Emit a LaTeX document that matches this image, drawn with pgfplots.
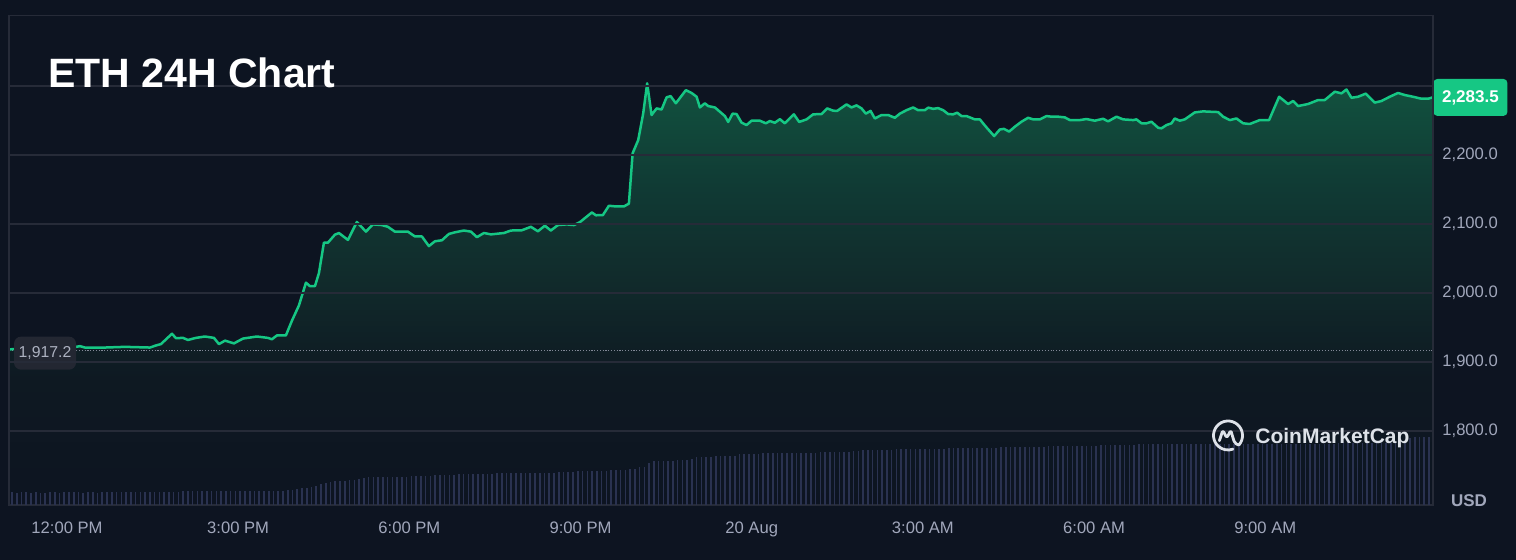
\documentclass[border=0pt]{standalone}
\usepackage{pgfplots}
\pgfplotsset{compat=1.18}
\usepackage{pgfplotstable}
\usepackage{fontspec}
\setmainfont{Liberation Sans}
\definecolor{bg}{RGB}{13,20,33}
\definecolor{gridc}{RGB}{38,43,56}
\definecolor{lineg}{RGB}{22,199,132}
\definecolor{fc0}{RGB}{13,20,33}
\definecolor{fc1}{RGB}{14,25,34}
\definecolor{fc2}{RGB}{17,44,44}
\definecolor{fc3}{RGB}{16,58,52}
\definecolor{fc4}{RGB}{18,82,63}
\definecolor{volc}{RGB}{42,50,80}
\definecolor{tickc}{RGB}{161,167,187}
\definecolor{dotc}{RGB}{130,136,150}
\definecolor{badgec}{RGB}{35,39,50}
\definecolor{badget}{RGB}{172,177,192}
\definecolor{logoc}{RGB}{222,226,233}
\pgfdeclareverticalshading{pfill}{100bp}{color(0bp)=(fc0); color(25bp)=(fc0); color(40bp)=(fc1); color(52.5bp)=(fc2); color(62.5bp)=(fc3); color(75bp)=(fc4); color(100bp)=(fc4)}

\pgfplotstableread{
t v
-1.016 1918.4
0.158 1922
0.228 1923
0.315 1921
0.666 1921
1.016 1922
1.454 1921
1.559 1924
1.647 1926
1.840 1941
1.910 1934.6
2.033 1935
2.120 1932
2.260 1935
2.418 1937
2.576 1935
2.663 1926
2.769 1931
2.926 1927
3.084 1934
3.329 1937
3.522 1935
3.592 1933
3.680 1938.6
3.837 1938.6
3.943 1960
4.065 1982
4.188 2015
4.258 2010
4.346 2010
4.416 2029
4.503 2073
4.573 2073
4.696 2084.6
4.766 2087
4.924 2077
5.081 2103
5.239 2089
5.362 2099.5
5.519 2098.5
5.624 2096
5.747 2089
5.975 2089
6.098 2082
6.220 2082
6.343 2068
6.448 2075
6.571 2076.5
6.694 2085.7
6.799 2088
6.956 2090.6
7.079 2089
7.184 2081
7.307 2087
7.430 2085
7.657 2087
7.780 2090.6
7.973 2091
8.130 2096
8.253 2089.5
8.375 2097.6
8.480 2090.6
8.603 2098.5
8.761 2099.5
8.883 2098.5
8.989 2102.7
9.199 2116.8
9.269 2112.7
9.392 2113
9.497 2126.5
9.620 2125.5
9.760 2125.5
9.848 2129.6
9.913 2202.5
10.011 2221.7
10.098 2260
10.168 2304
10.245 2258
10.333 2267.6
10.421 2266
10.508 2283.6
10.578 2285.5
10.671 2275
10.846 2294
10.946 2290
11.034 2284.5
11.092 2269
11.179 2275
11.237 2271
11.355 2269
11.530 2256.5
11.588 2248
11.665 2260
11.735 2259.4
11.822 2247
11.910 2243.5
11.998 2249.8
12.143 2249.8
12.248 2246
12.318 2249.3
12.406 2246.8
12.494 2252
12.581 2246
12.739 2259
12.832 2248
12.961 2251.7
13.077 2259
13.224 2259.4
13.322 2267.6
13.427 2264.3
13.497 2264
13.662 2273.4
13.749 2269
13.837 2272
13.925 2267.6
14.000 2260
14.083 2264
14.158 2253
14.275 2258
14.391 2258
14.508 2254
14.596 2260
14.713 2265
14.829 2269
14.917 2265
15.034 2265
15.092 2268.7
15.180 2267
15.267 2268
15.355 2265
15.443 2259.4
15.530 2259
15.600 2261.4
15.677 2256.5
15.765 2256.5
15.910 2251.7
15.998 2251.7
16.115 2240
16.249 2227.5
16.348 2237
16.419 2238
16.511 2234
16.611 2241
16.728 2248.3
16.844 2254
16.932 2251.7
17.049 2251.7
17.167 2256.5
17.254 2255.6
17.370 2255.6
17.487 2254.6
17.575 2250.7
17.750 2250.7
17.867 2252.2
18.013 2249.8
18.158 2252.6
18.246 2248.8
18.393 2255.6
18.509 2251.7
18.684 2250.7
18.743 2251.7
18.831 2246
18.919 2246
19.006 2248.3
19.122 2239.6
19.181 2238.7
19.269 2243.5
19.357 2246
19.414 2253
19.502 2249.8
19.590 2251.7
19.765 2261.8
19.911 2263.3
20.028 2262.8
20.174 2262.3
20.261 2255.6
20.379 2250.7
20.496 2253
20.612 2246
20.729 2245
20.904 2250.7
21.067 2250.7
21.243 2284.5
21.400 2274
21.488 2278.3
21.575 2271
21.751 2274
21.926 2279.7
22.043 2279.7
22.218 2291.8
22.336 2289.4
22.423 2295
22.511 2283
22.627 2284.5
22.761 2289
22.919 2276
23.036 2278.3
23.182 2284.5
23.327 2290
23.444 2287
23.590 2284.5
23.737 2281.6
23.853 2281.6
23.930 2283.5
}\pricedata

\pgfplotstableread{
v
12.5
12
12.5
12.5
12
12.5
12
12
12.5
12.5
12
12.5
13
12.5
12.5
11.5
12.5
13
12
12.5
12.5
12.5
12.5
12.5
12.5
12.5
12.5
12.5
12.5
12.5
13
13
13
13
13
13
13.5
13.5
13.5
13.5
13.5
13.5
13.5
13.5
13.5
14
14
14
14
14
14
14
14
14
14
14
14
14
14.5
15
15.7
16.7
17
18.3
19.3
21
21.7
23.3
23.5
24
24.3
24.7
25
25.7
26.7
27.5
27.5
27.7
27.7
27.7
27.7
28
28
28
28.5
28.5
29
29
29
29.5
29.5
30
30
30
30.5
30.5
30.5
30.7
31
31
31
31
31.5
31.5
31.7
31.7
31.7
32
32
32
32
32
32
32
32
32.5
33
33
33
33.5
33.5
33.5
34
34
34
34
34.5
35
35
35
36
36
37.7
38
41.7
44
44.3
44.3
44.3
44.3
44.5
44.5
45
46
47.7
47.7
48
48
48.5
48.5
49
49
49
50.5
51
51
51
51
51.5
51.5
51.5
51.5
52
52
52
52
52.3
52.3
52.3
52.3
52.5
53
53
53
53
53.3
53.3
53.5
53.5
54.5
55
55
55.3
55.3
55.3
55.3
55.5
55.5
55.5
55.5
56
56
56.3
56.3
56.3
56.3
56.3
56.5
56.5
56.5
56.5
56.5
56.5
56.7
56.7
57
57
57
57.5
57.5
58
58
58
58
58.3
58.3
58.3
58.3
58.5
58.5
58.5
58.5
58.7
59
59
59
59
59.3
59.3
60
60
60
60
60.3
60.3
60.3
60.3
60.5
60.5
60.5
60.5
60.5
60.7
60.7
60.7
60.7
60.7
60.7
60.7
61
61
61
61
61
61
61
61
61
61
61
61
61
61
61
61
61
61
61
61
61.3
61.3
61.3
61.3
61.3
61.3
61.3
61.3
61.3
61.3
61.5
61.5
61.5
61.5
61.5
61.5
61.5
61.5
61.5
61.5
61.7
61.7
61.7
61.7
61.7
67
67.7
67.7
67.7
68
}\voldata

\begin{document}
\begin{tikzpicture}
\fill[bg] (0,0) rectangle (758pt,280pt);
\useasboundingbox (0,0) rectangle (758pt,280pt);
\begin{axis}[
  at={(4.5pt,27.5pt)}, anchor=south west, scale only axis,
  width=712pt, height=244.65pt,
  xmin=-1.016, xmax=23.94, ymin=1692.8, ymax=2402,
  axis line style={draw=gridc, line width=0.6pt},
  ymajorgrids, grid style={draw=gridc, line width=0.6pt},
  axis on top,
  xtick={0,3,6,9,12,15,18,21},
  xticklabels={12:00 PM,3:00 PM,6:00 PM,9:00 PM,20 Aug,3:00 AM,6:00 AM,9:00 AM},
  ytick={1800,1900,2000,2100,2200,2300},
  yticklabels={{1,800.0},{1,900.0},{2,000.0},{2,100.0},{2,200.0},{}},
  yticklabel pos=right,
  major tick length=0pt,
  tick label style={font=\fontsize{8.3}{10}\selectfont, text=tickc, inner sep=0pt},
  xticklabel style={anchor=base, yshift=-14.5pt},
  yticklabel style={anchor=west, xshift=4.5pt},
  clip=false,
]
\addplot[draw=none, shading=pfill] table[x=t,y=v]{\pricedata} -- (axis cs:23.930,1692.8) -- (axis cs:-1.016,1692.8) -- cycle;
\addplot[draw=dotc, line width=0.55pt, dash pattern=on 0.55pt off 0.85pt] coordinates {(-1.016,1917.2) (23.94,1917.2)};
\addplot[draw=lineg, line width=1.25pt, line join=round] table[x=t,y=v]{\pricedata};
\node[anchor=west, fill=badgec, rounded corners=3.5pt, minimum width=31pt, minimum height=16.5pt, inner sep=0pt, text=badget, font=\fontsize{7.9}{9}\selectfont, yshift=-1.5pt] at (axis cs:-0.935,1917.2) {1,917.2};
\node[anchor=west, fill=lineg, rounded corners=2pt, minimum width=37pt, minimum height=18.5pt, inner sep=0pt, text=white, font=\fontsize{8.5}{10}\selectfont\bfseries] at (axis cs:23.94,2283.5) {2,283.5};
\end{axis}
\begin{axis}[
  at={(4.5pt,27.5pt)}, anchor=south west, scale only axis,
  width=712pt, height=244.65pt,
  xmin=-0.62, xmax=298.85, ymin=0, ymax=489.3,
  axis lines=none,
]
\addplot[ycomb, draw=volc, line width=0.8pt, mark=none] table[x expr=\coordindex, y=v]{\voldata};
\end{axis}
\node[anchor=base west, inner sep=0pt, text=white, font=\fontsize{20.5}{24}\selectfont\bfseries] at (24pt,236pt) {ETH 24H Chart};
\node[text=tickc, font=\fontsize{8.5}{10}\selectfont\bfseries] at (734.5pt,29.5pt) {USD};
\begin{scope}[shift={(614pt,62.25pt)}, draw=logoc, line width=1.4pt, line cap=round, line join=round]
\draw (-40:7.25pt) arc (-40:290:7.25pt);
\draw[rounded corners=0.8pt] (-4.3pt,-2.6pt) -- (-2.6pt,2.6pt) -- (-0.6pt,-1.2pt) -- (1.4pt,2.6pt) -- (2.8pt,-2.2pt) .. controls (3.4pt,-3.8pt) and (4.5pt,-4.6pt) .. (5.4pt,-4.8pt);
\end{scope}
\node[anchor=base west, text=logoc, font=\fontsize{10.5}{12}\selectfont\bfseries, inner sep=0pt] at (627.5pt,58pt) {CoinMarketCap};
\end{tikzpicture}
\end{document}
